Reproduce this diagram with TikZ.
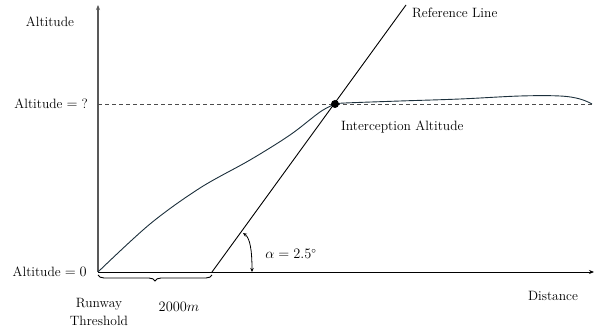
\documentclass[tikz,border=0pt]{standalone}
\usetikzlibrary{decorations.pathreplacing,arrows.meta}
\definecolor{pathcol}{RGB}{28,48,60}
\begin{document}
\begin{tikzpicture}[x=1pt,y=-1pt,
  lbl/.style={font=\fontsize{13.5}{16}\selectfont, inner sep=0pt},
  axisline/.style={draw=black!65, line width=1.1pt},
  refl/.style={draw=black, line width=0.9pt},
  fpath/.style={draw=pathcol, line width=0.9pt},
  dashline/.style={draw=black!70, dashed, dash pattern=on 4pt off 3pt, line width=0.9pt}]
\useasboundingbox (0,0) rectangle (595,331);
\coordinate (O) at (98,272);
\coordinate (ytop) at (98,5);
\coordinate (xend) at (594,272);
\coordinate (dashL) at (98,104);
\coordinate (dashR) at (594,104);
\coordinate (R0) at (212,272);
\coordinate (Rtop) at (406,5);
\coordinate (I) at (335,104);
\coordinate (arcA) at (243,233);
\coordinate (arcB) at (252,272);
% axes
\draw[axisline, -{Stealth[length=5pt,width=4pt]}] (O) -- (ytop);
\draw[draw=black, line width=0.9pt, -{Stealth[length=5pt,width=4pt]}] (O) -- (xend);
\draw[dashline] (dashL) -- (dashR);
% reference line
\draw[refl] (R0) -- (Rtop);
% flight path
\draw[fpath] plot[smooth, tension=0.55] coordinates {(98,272) (150,224) (200,188) (250,160) (290,135) (320,112) (335,104)};
\draw[fpath] plot[smooth, tension=0.6] coordinates {(335,104) (345,103) (400,101) (460,99) (520,96) (560,96) (580,99) (592,104)};
\node[circle, fill=black, inner sep=0pt, minimum size=8pt] (dot) at (I) {};
% angle
\draw[line width=0.8pt, {Stealth[length=4pt,width=3.5pt]}-{Stealth[length=4pt,width=3.5pt]}] (arcA) .. controls (250,238) and (252,250) .. (arcB);
% brace
\draw[decorate, decoration={brace, mirror, amplitude=6pt}, line width=0.9pt] (98,275) -- (212,275);
% labels
\node[lbl] (lalt) at (50,22) {Altitude};
\node[lbl, anchor=east] (laq) at (88,104) {Altitude${}={}$?};
\node[lbl, anchor=east] (la0) at (87,272) {Altitude${}=0$};
\node[lbl, anchor=west] (lref) at (412,13) {Reference Line};
\node[lbl, anchor=west] (lint) at (341,127) {Interception Altitude};
\node[lbl] (ldist) at (553,296) {Distance};
\node[lbl] (lalpha) at (291,254) {$\alpha = 2.5^\circ$};
\node[lbl] (l2000) at (179,307) {$2000m$};
\node[lbl, align=center] (lrw) at (99,312) {Runway\\[2pt]Threshold};
\end{tikzpicture}
\end{document}
